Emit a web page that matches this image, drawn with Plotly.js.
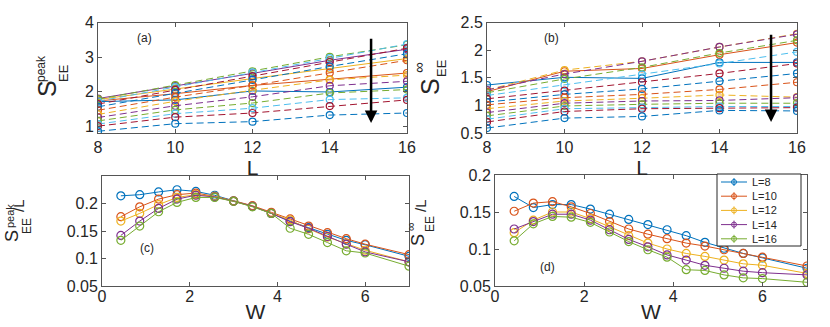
<!DOCTYPE html>
<html>
<head>
<meta charset="utf-8">
<script src="https://cdn.plot.ly/plotly-3.0.1.min.js"></script>
<style>
  html, body { margin: 0; padding: 0; background: #fff; }
  #plot { width: 830px; height: 327px; }
</style>
</head>
<body>
<div id="plot"></div>
<script>
"use strict";

// disorder strengths W and system sizes L
const W = [0.43, 0.86, 1.29, 1.71, 2.14, 2.57, 3.0, 3.43, 3.86, 4.29, 4.71, 5.14, 5.57, 6.0, 7.0];
const L = [8, 10, 12, 14, 16];
const legendNames = ["L=8", "L=10", "L=12", "L=14", "L=16"];

// (a) S_EE^peak, one array per L, indexed by W
const peak8  = [1.71, 1.73, 1.77, 1.80, 1.78, 1.72, 1.64, 1.56, 1.46, 1.34, 1.25, 1.15, 1.06, 1.00, 0.85];
const peak10 = [1.76, 1.94, 2.08, 2.16, 2.19, 2.13, 2.05, 1.96, 1.84, 1.72, 1.59, 1.47, 1.36, 1.26, 1.07];
const peak12 = [2.02, 2.18, 2.38, 2.53, 2.59, 2.56, 2.45, 2.34, 2.18, 2.04, 1.85, 1.67, 1.52, 1.38, 1.13];
const peak14 = [1.99, 2.35, 2.67, 2.91, 3.01, 2.97, 2.86, 2.73, 2.55, 2.34, 2.17, 1.96, 1.77, 1.58, 1.32];
const peak16 = [2.13, 2.54, 2.96, 3.23, 3.36, 3.38, 3.26, 3.10, 2.91, 2.48, 2.30, 2.06, 1.82, 1.76, 1.38];

// (b) S_EE^inf, one array per L, indexed by W
const inf8  = [1.37, 1.25, 1.28, 1.28, 1.23, 1.18, 1.12, 1.06, 1.01, 0.94, 0.87, 0.81, 0.75, 0.70, 0.59];
const inf10 = [1.51, 1.62, 1.64, 1.57, 1.48, 1.37, 1.27, 1.20, 1.14, 1.08, 1.04, 0.99, 0.94, 0.89, 0.77];
const inf12 = [1.49, 1.67, 1.80, 1.80, 1.69, 1.56, 1.42, 1.30, 1.20, 1.13, 1.08, 1.02, 0.96, 0.94, 0.80];
const inf14 = [1.78, 1.92, 2.06, 2.06, 1.95, 1.76, 1.58, 1.44, 1.29, 1.19, 1.09, 1.04, 0.98, 0.95, 0.91];
const inf16 = [1.78, 2.14, 2.30, 2.29, 2.18, 1.97, 1.76, 1.58, 1.42, 1.15, 1.14, 1.04, 0.98, 0.96, 0.90];

// (c) S_EE^peak / L vs W
const peakL8  = [0.214, 0.216, 0.221, 0.225, 0.222, 0.215, 0.205, 0.195, 0.182, 0.168, 0.156, 0.144, 0.133, 0.125, 0.104];
const peakL10 = [0.176, 0.194, 0.208, 0.216, 0.219, 0.213, 0.205, 0.196, 0.184, 0.172, 0.159, 0.147, 0.136, 0.126, 0.107];
const peakL12 = [0.168, 0.182, 0.198, 0.211, 0.216, 0.213, 0.204, 0.195, 0.182, 0.170, 0.154, 0.139, 0.127, 0.115, 0.094];
const peakL14 = [0.142, 0.168, 0.191, 0.208, 0.215, 0.212, 0.204, 0.195, 0.182, 0.167, 0.155, 0.140, 0.126, 0.112, 0.094];
const peakL16 = [0.133, 0.159, 0.185, 0.202, 0.211, 0.211, 0.204, 0.194, 0.182, 0.155, 0.144, 0.129, 0.114, 0.110, 0.086];

// (d) S_EE^inf / L vs W
const infL8  = [0.171, 0.156, 0.160, 0.160, 0.154, 0.147, 0.140, 0.133, 0.126, 0.118, 0.109, 0.101, 0.094, 0.088, 0.074];
const infL10 = [0.151, 0.162, 0.164, 0.157, 0.148, 0.137, 0.127, 0.120, 0.114, 0.108, 0.104, 0.099, 0.094, 0.089, 0.077];
const infL12 = [0.122, 0.139, 0.150, 0.150, 0.141, 0.130, 0.118, 0.108, 0.100, 0.094, 0.090, 0.085, 0.080, 0.078, 0.067];
const infL14 = [0.127, 0.137, 0.147, 0.147, 0.139, 0.126, 0.113, 0.103, 0.092, 0.085, 0.078, 0.074, 0.070, 0.068, 0.065];
const infL16 = [0.111, 0.134, 0.144, 0.143, 0.136, 0.123, 0.110, 0.099, 0.089, 0.072, 0.071, 0.065, 0.061, 0.060, 0.055];

// MATLAB default colour order
const COLORS = ["#0072BD", "#D95319", "#EDB120", "#7E2F8E", "#77AC30", "#4DBEEE", "#A2142F"];
const FONT = "Liberation Sans, Arial, sans-serif";
const INK = "#262626";
const DASH = "7px,4px";

// pixel -> paper helpers (margins are zero)
const FW = 830, FH = 327;
const px = v => v / FW;
const py = v => 1 - v / FH;

const traces = [];

// top panels: one curve per W across L
function addVsL(byL, xa, ya, nSolid) {
    for (let k = 0; k < W.length; k++) {
        traces.push({
            x: L, y: byL.map(a => a[k]),
            xaxis: xa, yaxis: ya,
            type: "scatter", mode: "lines+markers",
            showlegend: false,
            line: { color: COLORS[k % 7], width: 1, dash: k < nSolid ? "solid" : DASH },
            marker: { symbol: "circle-open", size: 7, color: COLORS[k % 7], line: { width: 1.2 } },
            hoverinfo: "skip",
        });
    }
}
addVsL([peak8, peak10, peak12, peak14, peak16], "x", "y", 4);
addVsL([inf8, inf10, inf12, inf14, inf16], "x2", "y2", 2);

// bottom panels: one curve per L across W
function addVsW(series, xa, ya) {
    series.forEach((ys, i) => {
        traces.push({
            x: W, y: ys,
            xaxis: xa, yaxis: ya,
            type: "scatter", mode: "lines+markers",
            name: legendNames[i], showlegend: false,
            line: { color: COLORS[i], width: 1 },
            marker: { symbol: "circle-open", size: 8, color: COLORS[i], line: { width: 1.2 } },
        });
    });
}
addVsW([peakL8, peakL10, peakL12, peakL14, peakL16], "x3", "y3");
addVsW([infL8, infL10, infL12, infL14, infL16], "x4", "y4");

function ax(domain, range, tickvals, extra) {
    return Object.assign({
        domain: domain, range: range, tickvals: tickvals,
        showline: true, mirror: "ticks", linecolor: "#555", linewidth: 1,
        ticks: "inside", ticklen: 4, tickcolor: "#555",
        showgrid: false, zeroline: false,
        tickfont: { family: FONT, size: 16, color: INK },
    }, extra || {});
}

function lab(text, x, y, size, angle, xanchor) {
    return { text: text, xref: "paper", yref: "paper", x: px(x), y: py(y),
             xanchor: xanchor || "center", yanchor: "middle", showarrow: false,
             textangle: angle === undefined ? -90 : angle, borderpad: 0,
             font: { family: FONT, size: size, color: INK } };
}

const xTitle = (t, s) => ({ text: t, font: { family: FONT, size: 21, color: INK }, standoff: s });

// legend box drawn by hand in panel (d): MATLAB packs entries tighter than Plotly allows
const legShapes = [
    { type: "rect", xref: "paper", yref: "paper", x0: px(717), x1: px(801), y0: py(246), y1: py(174),
      line: { color: INK, width: 1 }, fillcolor: "#fff", layer: "above" },
];
const legNotes = [];
legendNames.forEach((name, i) => {
    const yy = 182 + i * 14.2;
    legShapes.push({ type: "line", xref: "paper", yref: "paper", x0: px(721), x1: px(747), y0: py(yy), y1: py(yy),
                     line: { color: COLORS[i], width: 1 } });
    legShapes.push({ type: "line", xref: "paper", yref: "paper", x0: px(734), x1: px(734), y0: py(yy - 4), y1: py(yy + 4),
                     line: { color: COLORS[i], width: 1 } });
    legShapes.push({ type: "circle", xref: "paper", yref: "paper", x0: px(731.5), x1: px(736.5), y0: py(yy - 2.5), y1: py(yy + 2.5),
                     line: { color: COLORS[i], width: 1 }, fillcolor: "rgba(0,0,0,0)" });
    legNotes.push(lab(name, 751, yy, 11, 0, "left"));
});

const layout = {
    width: FW, height: FH,
    margin: { l: 0, r: 0, t: 0, b: 0 },
    paper_bgcolor: "#fff", plot_bgcolor: "#fff",
    showlegend: false,
    xaxis:  ax([px(98), px(407)], [8, 16], [8, 10, 12, 14, 16], { anchor: "y",  title: xTitle("L", 0) }),
    yaxis:  ax([py(133), py(22.7)], [0.8, 4], [1, 2, 3, 4], { anchor: "x" }),
    xaxis2: ax([px(487), px(797)], [8, 16], [8, 10, 12, 14, 16], { anchor: "y2", title: xTitle("L", 0) }),
    yaxis2: ax([py(133), py(22.7)], [0.5, 2.5], [0.5, 1, 1.5, 2, 2.5], { anchor: "x2" }),
    xaxis3: ax([px(102), px(409)], [0, 7], [0, 2, 4, 6], { anchor: "y3", title: xTitle("W", 0), ticklabelstandoff: -4 }),
    yaxis3: ax([py(286), py(176)], [0.05, 0.25], [0.05, 0.1, 0.15, 0.2], { anchor: "x3" }),
    xaxis4: ax([px(495), px(807)], [0, 7], [0, 2, 4, 6], { anchor: "y4", title: xTitle("W", 0), ticklabelstandoff: -4 }),
    yaxis4: ax([py(286), py(175)], [0.05, 0.2], [0.05, 0.1, 0.15, 0.2], { anchor: "x4" }),
    shapes: legShapes,
    annotations: [
        // panel tags
        lab("(a)", 144, 38, 12, 0),
        lab("(b)", 551, 38, 12, 0),
        lab("(c)", 147, 248, 12, 0),
        lab("(d)", 547, 267, 12, 0),
        // y label (a): S^peak_EE
        lab("S", 47, 89, 25),
        lab("peak", 41, 69, 12),
        lab("EE", 63, 73, 13),
        // y label (b): S^inf_EE
        lab("S", 430, 87, 25),
        lab("∞", 419, 68, 15),
        lab("EE", 442, 68, 13),
        // y label (c): S^peak_EE / L
        lab("S", 12, 236, 18),
        lab("peak", 10, 216, 11),
        lab("EE", 27, 226, 12),
        lab("/L", 18, 206, 15),
        // y label (d): S^inf_EE / L
        lab("S", 418, 240, 18),
        lab("∞", 411, 227, 12),
        lab("EE", 430, 224, 12),
        lab("/L", 420, 205, 15),
        // arrows: increasing W
        { xref: "x", yref: "y", x: 15.07, y: 1.09, axref: "x", ayref: "y", ax: 15.07, ay: 3.58,
          showarrow: true, arrowhead: 2, arrowsize: 1, arrowwidth: 2.5, arrowcolor: "#000", text: "" },
        { xref: "x2", yref: "y2", x: 15.33, y: 0.70, axref: "x2", ayref: "y2", ax: 15.33, ay: 2.31,
          showarrow: true, arrowhead: 2, arrowsize: 1, arrowwidth: 2.5, arrowcolor: "#000", text: "" },
    ].concat(legNotes),
};

Plotly.newPlot("plot", traces, layout, { displayModeBar: false, staticPlot: true });
</script>
</body>
</html>
